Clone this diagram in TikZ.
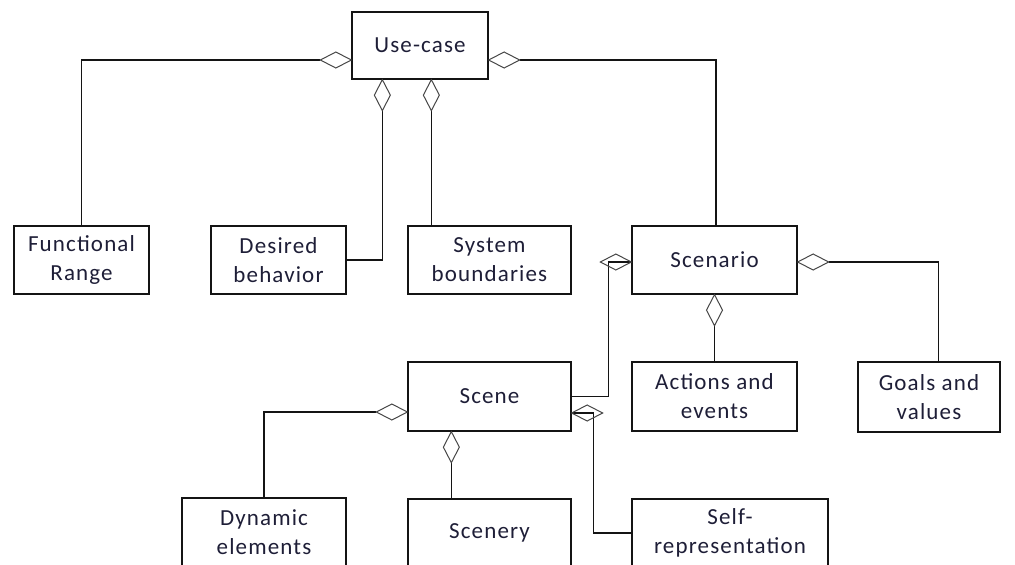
\documentclass[tikz,border=0pt]{standalone}
\usepackage{fontspec}
\setmainfont[LetterSpace=5]{Carlito}
\definecolor{txt}{RGB}{30,30,55}
\definecolor{ln}{RGB}{20,20,20}
\definecolor{dm}{RGB}{70,70,70}
\tikzset{
  box/.style={draw=ln, line width=1.3pt, inner sep=0pt, align=center,
    font=\fontsize{23}{29}\selectfont, text=txt},
  conn/.style={draw=ln, line width=1.3pt},
  agg/.pic={\draw[dm, line width=1pt, line join=miter] (0,0) -- (15.5,8) -- (31,0) -- (15.5,-8) -- cycle;}
}
\begin{document}
\begin{tikzpicture}[x=1pt,y=-1pt]
\useasboundingbox (0,0) rectangle (1015,565);
\clip (0,0) rectangle (1015,565);
% boxes
\node[box, minimum width=136pt, minimum height=67pt] (usecase) at (420,45.5) {Use-case};
\node[box, minimum width=135pt, minimum height=68pt] (func) at (81.5,260) {Functional\\Range};
\node[box, minimum width=135pt, minimum height=68pt] (desired) at (278.5,260) {Desired\\behavior};
\node[box, minimum width=163pt, minimum height=68pt] (system) at (489.5,260) {System\\boundaries};
\node[box, minimum width=165pt, minimum height=68pt] (scenario) at (714.5,260) {Scenario};
\node[box, minimum width=163pt, minimum height=69pt] (scene) at (489.5,396.5) {Scene};
\node[box, minimum width=165pt, minimum height=69pt] (actions) at (714.5,396.5) {Actions and\\events};
\node[box, minimum width=142pt, minimum height=70pt] (goals) at (929,397) {Goals and\\values};
\node[box, minimum width=164pt, minimum height=68pt] (dyn) at (264,532) {Dynamic\\elements};
\node[box, minimum width=163pt, minimum height=68pt] (scenery) at (489.5,533) {Scenery};
\node[box, minimum width=196pt, minimum height=68pt] (self) at (730,533) {Self-\\representation};
% helper coordinates
\coordinate (u2) at ([xshift=31pt]usecase.south west);
\coordinate (u3) at ([xshift=80pt]usecase.south west);
\coordinate (gx) at ([xshift=81pt]goals.north west);
\coordinate (s9) at ([xshift=44pt]scene.south west);
% connectors
\draw[conn] ([xshift=-31pt,yshift=-14.5pt]usecase.west) -| (func.north);
\pic[rotate=180] at ([yshift=-14.5pt]usecase.west) {agg};
\draw[conn] ([yshift=-31pt]u2) |- (desired.east);
\pic[rotate=-90] at (u2) {agg};
\draw[conn] ([yshift=-31pt]u3) -- (u3 |- system.north);
\pic[rotate=-90] at (u3) {agg};
\draw[conn] ([xshift=31pt,yshift=-14.5pt]usecase.east) -| ([xshift=1.5pt]scenario.north);
\pic at ([yshift=-14.5pt]usecase.east) {agg};
\draw[conn] ([yshift=-2pt]scenario.west) -- ++(-23,0) |- (scene.east);
\pic[rotate=180] at ([yshift=-2pt]scenario.west) {agg};
\draw[conn] ([yshift=-31pt]scenario.south) -- (actions.north);
\pic[rotate=-90] at (scenario.south) {agg};
\draw[conn] ([xshift=31pt,yshift=-2pt]scenario.east) -| (gx);
\pic at ([yshift=-2pt]scenario.east) {agg};
\draw[conn] ([xshift=-31pt,yshift=-15.5pt]scene.west) -| (dyn.north);
\pic[rotate=180] at ([yshift=-15.5pt]scene.west) {agg};
\draw[conn] ([yshift=-31pt]s9) -- (s9 |- scenery.north);
\pic[rotate=-90] at (s9) {agg};
\draw[conn] ([yshift=-16.5pt]scene.east) -- ++(22,0) |- (self.west);
\pic at ([yshift=-16.5pt]scene.east) {agg};
\end{tikzpicture}
\end{document}
